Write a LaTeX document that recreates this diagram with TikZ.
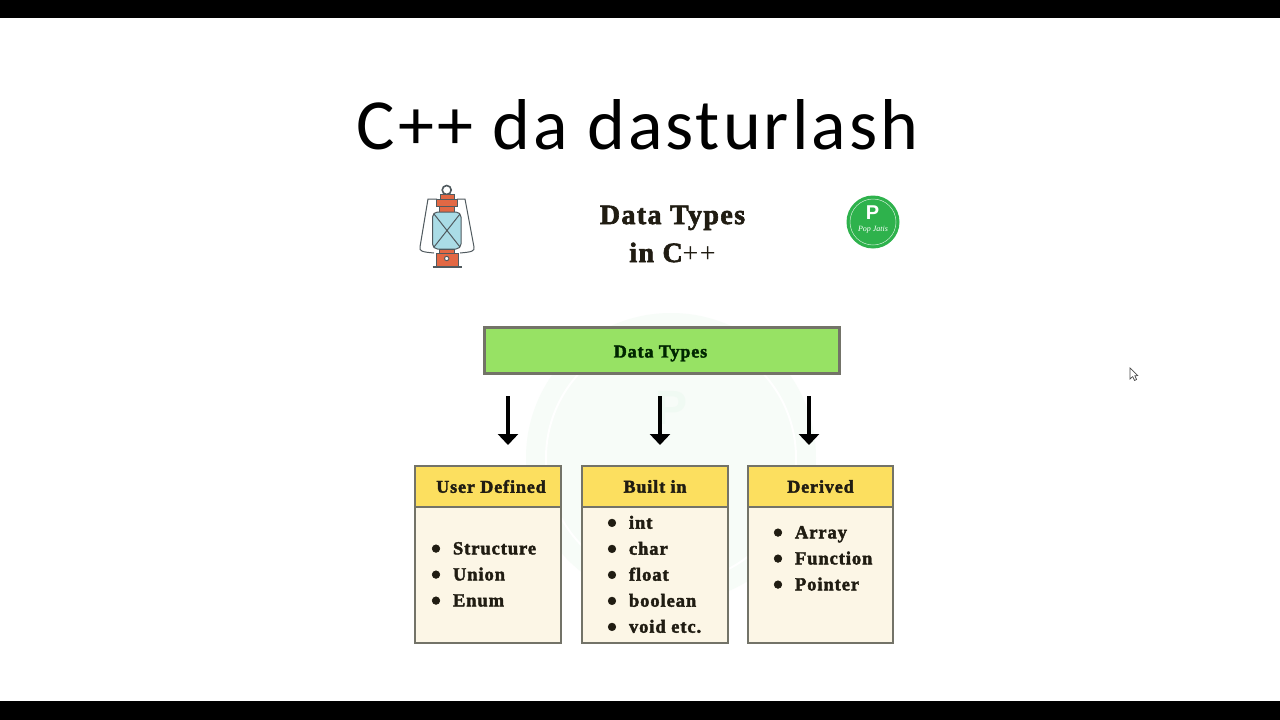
\documentclass[tikz,border=0pt]{standalone}
\usepackage{fontspec}
\usepackage{xcolor}
\usepackage{tikz}
\usetikzlibrary{positioning,arrows.meta}
\setmainfont{Liberation Serif}
\newfontfamily\titlefont[LetterSpace=4.2]{Carlito}
\newfontfamily\headfont[LetterSpace=5,BoldFont={Liberation Serif Bold},BoldFeatures={FakeBold=2.2}]{Liberation Serif}
\newfontfamily\logofont{Liberation Sans}
\definecolor{dtgreen}{RGB}{151,226,100}
\definecolor{dtyellow}{RGB}{252,223,95}
\definecolor{dtcream}{RGB}{252,246,230}
\definecolor{dtgray}{RGB}{115,115,104}
\definecolor{dtink}{RGB}{32,28,18}
\definecolor{logogreen}{RGB}{46,178,76}
\definecolor{lampred}{RGB}{226,104,68}
\definecolor{lampblue}{RGB}{170,220,230}
\definecolor{lampline}{RGB}{80,90,95}
\newcommand{\lstitem}[1]{\makebox[34pt][c]{\raisebox{-3.5pt}{\fontsize{28}{26}\selectfont\textbullet}}#1}

\begin{document}
\begin{tikzpicture}[x=1pt, y=-1pt, every node/.style={inner sep=0pt, outer sep=0pt},
  headbox/.style={draw=dtgray, line width=1.6pt, fill=dtyellow, minimum height=41pt, font=\headfont\bfseries\fontsize{18}{22}\selectfont, text=dtink},
  bodybox/.style={draw=dtgray, line width=1.6pt, fill=dtcream, minimum height=136pt},
  lstnode/.style={anchor=west, align=left, text=dtink, font=\headfont\bfseries\fontsize{18.5}{26}\selectfont},
  downarrow/.style={-{Triangle[width=20pt,length=11pt]}, line width=4.4pt, black},
  lampshape/.style={draw=lampline, line width=1pt}]
  \useasboundingbox (0,0) rectangle (1280,720);
  \fill[white] (0,0) rectangle (1280,720);
  \fill[black] (0,0) rectangle (1280,18);
  \fill[black] (0,701) rectangle (1280,720);

  % faint mark behind the boxes
  \fill[logogreen!4] (671,458) circle (145);
  \draw[white, line width=2pt] (671,458) circle (125);
  \node[text=logogreen!7, font=\logofont\bfseries\fontsize{48}{48}\selectfont] (markp) at (672,408) {P};

  \node[font=\titlefont\fontsize{72}{80}\selectfont, text=black] (title) at (637.5,125) {C++ da dasturlash};
  \node[align=center, text=dtink, font=\headfont\bfseries\fontsize{28}{38}\selectfont] (subtitle) at (672.5,234) {Data Types\\in C{\mdseries ++}};

  % lantern
  \draw[draw=lampline, line width=1pt, fill=white] (437,199) -- (428,199) -- (420,247) .. controls (419,251) and (422,252) .. (434,253);
  \draw[draw=lampline, line width=1pt, fill=white] (457,199) -- (465,199) -- (474,247) .. controls (475,251) and (472,252) .. (460,253);
  \draw[lampshape, line width=1.6pt] (446.7,190) circle (4.5);
  \filldraw[lampshape, fill=lampred] (440,194) rectangle (454,199);
  \filldraw[lampshape, fill=lampred] (436,199) rectangle (457,206);
  \filldraw[lampshape, fill=lampred] (439,206) rectangle (454,212);
  \filldraw[lampshape, fill=lampblue, rounded corners=5pt] (432.5,212) rectangle (461,249);
  \draw[lampshape] (434,214) -- (460,247) (460,214) -- (434,247);
  \filldraw[lampshape, fill=lampred] (439,249) rectangle (454,253);
  \filldraw[lampshape, fill=lampred] (436,253) rectangle (458,266);
  \draw[lampshape, line width=1.4pt] (432.5,267) -- (461.5,267);
  \filldraw[lampshape, fill=white] (446.7,258.5) circle (2.2);

  % logo
  \fill[logogreen] (873,222) circle (26.5);
  \draw[white!75!logogreen, line width=0.5pt] (873,222) circle (23);
  \node[text=white, font=\logofont\bfseries\fontsize{20}{20}\selectfont] (logop) at (872.5,213) {P};
  \node[text=white, font=\itshape\fontsize{8}{8}\selectfont] (logotext) at (873,229.5) {Pop Jatis};

  % chart
  \node[draw=dtgray, line width=3pt, fill=dtgreen, minimum width=355pt, minimum height=46pt] (types) at (661.5,350) {};
  \node[text=black!85!green, font=\headfont\bfseries\fontsize{18}{22}\selectfont] (typeslabel) at (660.5,353.5) {Data Types};

  \node[headbox, minimum width=146pt, anchor=north west] (user) at (415,466) {\hspace*{6pt}User Defined};
  \node[headbox, minimum width=146pt, right=21pt of user] (built) {Built in};
  \node[headbox, minimum width=145pt, right=20pt of built] (derived) {Derived};
  \node[bodybox, minimum width=146pt, below=0pt of user] (userbody) {};
  \node[bodybox, minimum width=146pt, below=0pt of built] (builtbody) {};
  \node[bodybox, minimum width=145pt, below=0pt of derived] (derivedbody) {};

  \node[lstnode] (userlist) at (419,576) {\lstitem{Structure}\\\lstitem{Union}\\\lstitem{Enum}};
  \node[lstnode] (builtlist) at (595,576) {\lstitem{int}\\\lstitem{char}\\\lstitem{float}\\\lstitem{boolean}\\\lstitem{void etc.}};
  \node[lstnode] (derivedlist) at (761,560) {\lstitem{Array}\\\lstitem{Function}\\\lstitem{Pointer}};

  \coordinate (userarrow) at (508,420);
  \coordinate (builtarrow) at (660,420);
  \coordinate (derivedarrow) at (809,420);
  \draw[downarrow, shorten <=23pt, shorten >=21pt] (userarrow |- types.south) -- (userarrow |- user.north);
  \draw[downarrow, shorten <=23pt, shorten >=21pt] (builtarrow |- types.south) -- (builtarrow |- built.north);
  \draw[downarrow, shorten <=23pt, shorten >=21pt] (derivedarrow |- types.south) -- (derivedarrow |- derived.north);

  % mouse pointer
  \filldraw[draw=black!70, fill=white, line width=0.7pt] (1130,368) -- (1130,379) -- (1132.7,376.6) -- (1134.6,380.5) -- (1136.6,379.5) -- (1134.8,375.8) -- (1137.8,375.6) -- cycle;
\end{tikzpicture}
\end{document}
